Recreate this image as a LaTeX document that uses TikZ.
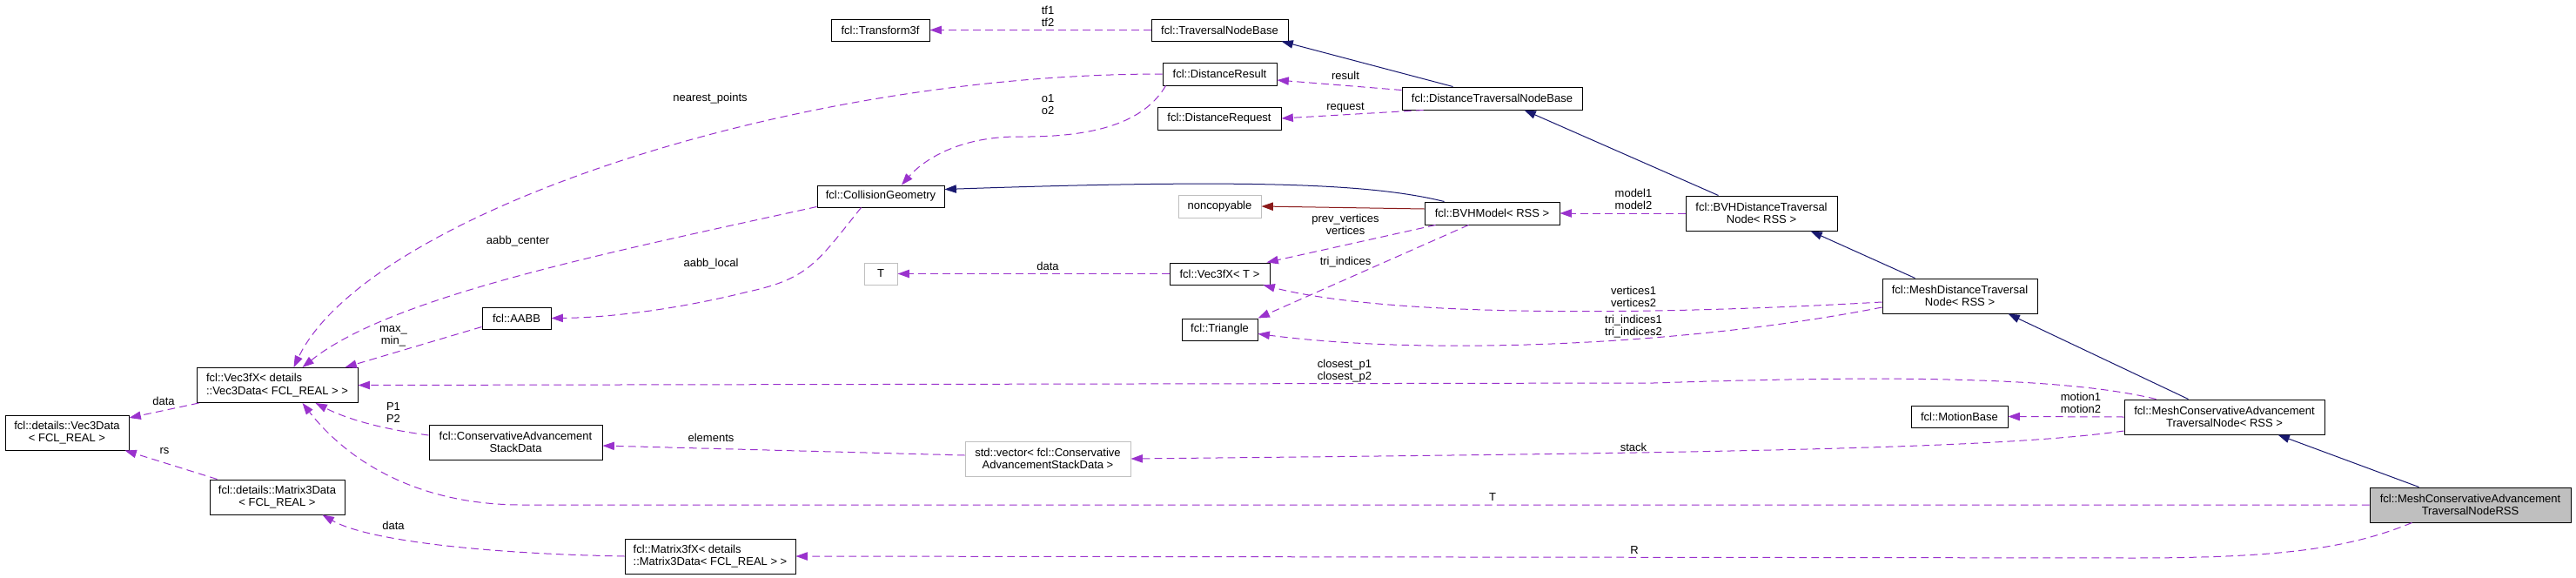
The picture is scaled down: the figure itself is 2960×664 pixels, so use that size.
\documentclass[tikz,border=0pt]{standalone}
\usepackage{fontspec}
\setmainfont{Liberation Sans}
\usetikzlibrary{arrows.meta,calc}

\definecolor{usecol}{HTML}{9A32CD}
\definecolor{inhcol}{HTML}{191970}
\definecolor{privcol}{HTML}{8B1A1A}
\definecolor{ghost}{HTML}{BFBFBF}

\newcommand\doxyfont{\fontsize{9.75pt}{10.8pt}\selectfont}

\tikzset{
  cls/.style 2 args={draw, line width=0.75pt, fill=white, inner sep=0pt, align=center,
    font=\doxyfont, minimum width=#1*0.75pt, minimum height=#2*0.75pt},
  ext/.style={draw=ghost},
  lbl/.style={inner sep=0pt, align=center, font=\doxyfont},
  uses/.style={usecol, line width=0.75pt, dash pattern=on 6.5pt off 4pt,
    -{Triangle[length=10pt,width=7pt]}},
  inherits/.style={inhcol, line width=0.75pt, -{Triangle[length=10pt,width=7pt]}},
  privinh/.style={privcol, line width=0.75pt, -{Triangle[length=10pt,width=7pt]}}
}

\begin{document}
\begin{tikzpicture}[x=0.75pt,y=-0.75pt]

\path[use as bounding box, fill=white] (0,0) rectangle (2960,664);

\node[cls={231}{40}, fill=ghost] (rss) at (2838.5,580) {fcl::MeshConservativeAdvancement\\TraversalNodeRSS};
\node[cls={230}{40}] (mcatn) at (2556,479) {fcl::MeshConservativeAdvancement\\TraversalNode< RSS >};
\node[cls={178}{40}] (mdtn) at (2252,340) {fcl::MeshDistanceTraversal\\Node< RSS >};
\node[cls={111}{25}] (motion) at (2251.5,478.5) {fcl::MotionBase};
\node[cls={174}{40}] (bvhdtn) at (2024,245) {fcl::BVHDistanceTraversal\\Node< RSS >};
\node[cls={207}{26}] (dtnb) at (1714.5,113) {fcl::DistanceTraversalNodeBase};
\node[cls={155}{26}] (bvhm) at (1714.5,245) {fcl::BVHModel< RSS >};
\node[cls={157}{25}] (tnb) at (1401.5,34.5) {fcl::TraversalNodeBase};
\node[cls={131}{26}] (dres) at (1401.5,85) {fcl::DistanceResult};
\node[cls={142}{26}] (dreq) at (1401,136) {fcl::DistanceRequest};
\node[cls={95}{26}, ext] (noncopy) at (1401.5,237) {noncopyable};
\node[cls={115}{25}] (vecT) at (1401.5,314.5) {fcl::Vec3fX< T >};
\node[cls={87}{25}] (tri) at (1401.5,378.5) {fcl::Triangle};
\node[cls={190}{40}, ext] (stdvec) at (1204,527) {std::vector< fcl::Conservative\\AdvancementStackData >};
\node[cls={113}{25}] (tf3) at (1011.5,34.5) {fcl::Transform3f};
\node[cls={146}{25}] (cg) at (1012,225.5) {fcl::CollisionGeometry};
\node[cls={38}{25}, ext] (tT) at (1012,314.5) {T};
\node[cls={196}{40}, align=left] (m3fx) at (816,639) {fcl::Matrix3fX< details\\::Matrix3Data< FCL\_REAL > >};
\node[cls={79}{25}] (aabb) at (593.5,365.5) {fcl::AABB};
\node[cls={199}{40}] (casd) at (592.5,508) {fcl::ConservativeAdvancement\\StackData};
\node[cls={185}{40}, align=left] (v3fx) at (318.5,442.5) {fcl::Vec3fX< details\\::Vec3Data< FCL\_REAL > >};
\node[cls={155}{40}] (m3data) at (318.5,571) {fcl::details::Matrix3Data\\< FCL\_REAL >};
\node[cls={142}{40}] (v3data) at (77,497) {fcl::details::Vec3Data\\< FCL\_REAL >};

\draw[inherits] ($(dtnb.north west)+(59,0)$) -- ($(tnb.south east)+(-8,0)$);
\draw[inherits] ($(bvhdtn.north west)+(38,0)$) -- ($(dtnb.south west)+(141,0)$);
\draw[inherits] ($(bvhm.north west)+(23,0)$) .. controls (1580,212) and (1450,205) .. ($(cg.east)+(0,-8)$);
\draw[inherits] ($(mdtn.north west)+(38,0)$) -- ($(bvhdtn.south west)+(144,0)$);
\draw[inherits] ($(mcatn.north west)+(74,0)$) -- ($(mdtn.south west)+(145,0)$);
\draw[inherits] ($(rss.north west)+(57,0)$) -- ($(mcatn.south west)+(177,0)$);
\draw[privinh] ($(bvhm.west)+(0,-5)$) -- (noncopy.east);

\draw[uses] (tnb.west) -- (tf3.east);
\draw[uses] (dres.west) .. controls (900,85) and (420,250) .. ($(v3fx.north west)+(112,0)$);
\draw[uses] ($(dres.south west)+(4,0)$) .. controls (1315,140) and (1260,158) .. (1170,157)
  .. controls (1100,157) and (1060,185) .. ($(cg.north)+(24,0)$);
\draw[uses] ($(dtnb.north west)+(0,4)$) -- ($(dres.east)+(0,7)$);
\draw[uses] ($(dtnb.south west)+(25,0)$) -- (dreq.east);
\draw[uses] (bvhdtn.west) -- (bvhm.east);
\draw[uses] ($(bvhm.south west)+(13,0)$) -- ($(vecT.north east)+(-4,0)$);
\draw[uses] ($(bvhm.south west)+(51,0)$) -- (tri.north east);
\draw[uses] (vecT.west) -- (tT.east);
\draw[uses] ($(cg.south west)+(51,0)$) .. controls (940,300) and (930,320) .. (860,335)
  .. controls (780,355) and (700,365) .. (aabb.east);
\draw[uses] ($(cg.south west)+(0,-1)$) .. controls (700,290) and (450,340) .. ($(v3fx.north west)+(122,0)$);
\draw[uses] ($(aabb.south west)+(0,-3)$) -- ($(v3fx.north east)+(-15,0)$);
\draw[uses] ($(mdtn.west)+(0,7)$) .. controls (1900,362) and (1600,365) .. ($(vecT.south east)+(-8,0)$);
\draw[uses] ($(mdtn.west)+(0,13)$) .. controls (1950,395) and (1650,410) .. ($(tri.east)+(0,5)$);
\draw[uses] ($(mcatn.north west)+(37,0)$) .. controls (2380,435) and (2200,430) .. (1900,440) -- (v3fx.east);
\draw[uses] (mcatn.west) -- (motion.east);
\draw[uses] ($(mcatn.west)+(0,16)$) .. controls (2300,515) and (2000,520) .. (stdvec.east);
\draw[uses] ($(stdvec.west)+(0,-4)$) -- ($(casd.east)+(0,4)$);
\draw[uses] ($(casd.west)+(0,-8)$) .. controls (440,493) and (400,482) .. ($(v3fx.south west)+(137,0)$);
\draw[uses] (rss.west) -- (600,580) .. controls (480,580) and (400,530) .. ($(v3fx.south west)+(122,0)$);
\draw[uses] ($(rss.south west)+(49,0)$) .. controls (2700,630) and (2620,641) .. (2450,641) -- (m3fx.east);
\draw[uses] (m3fx.west) .. controls (550,636) and (420,620) .. ($(m3data.south west)+(130,0)$);
\draw[uses] ($(m3data.north west)+(9,0)$) -- ($(v3data.south east)+(-5,0)$);
\draw[uses] ($(v3fx.south west)+(3,0)$) -- ($(v3data.east)+(0,-17)$);

\node[lbl] (l-tf) at (1204,19) {tf1\\tf2};
\node[lbl] (l-near) at (816,113) {nearest\_points};
\node[lbl] (l-o) at (1204,120) {o1\\o2};
\node[lbl] (l-res) at (1546,87) {result};
\node[lbl] (l-req) at (1546,124) {request};
\node[lbl] (l-model) at (1877,229) {model1\\model2};
\node[lbl] (l-vert) at (1546,258) {prev\_vertices\\vertices};
\node[lbl] (l-tri) at (1546,301) {tri\_indices};
\node[lbl] (l-dataT) at (1204,306) {data};
\node[lbl] (l-center) at (595,277) {aabb\_center};
\node[lbl] (l-local) at (817,303) {aabb\_local};
\node[lbl] (l-maxmin) at (452,386) {max\_\\min\_};
\node[lbl] (l-vert12) at (1877,341) {vertices1\\vertices2};
\node[lbl] (l-tri12) at (1877,375) {tri\_indices1\\tri\_indices2};
\node[lbl] (l-closest) at (1545,426) {closest\_p1\\closest\_p2};
\node[lbl] (l-motion) at (2391,463) {motion1\\motion2};
\node[lbl] (l-p) at (452,474) {P1\\P2};
\node[lbl] (l-dataV) at (188,461) {data};
\node[lbl] (l-elem) at (817,503) {elements};
\node[lbl] (l-stack) at (1877,514) {stack};
\node[lbl] (l-rs) at (189,518) {rs};
\node[lbl] (l-T) at (1715,571) {T};
\node[lbl] (l-dataM) at (452,604) {data};
\node[lbl] (l-R) at (1878,632) {R};

\end{tikzpicture}
\end{document}
